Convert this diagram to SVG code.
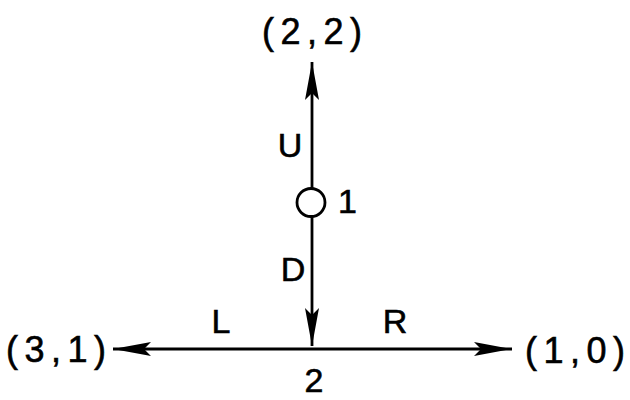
<svg xmlns="http://www.w3.org/2000/svg" width="630" height="400" viewBox="0 0 630 400">
<style>
text{font-family:"Liberation Sans",Arial,sans-serif;fill:#000;stroke:#000;stroke-width:0.6}
.t{font-size:36px;letter-spacing:6.5px}
.l{font-size:34px}
.e{stroke:#000;stroke-width:2.8;fill:none}
</style>
<defs>
<marker id="ah" viewBox="0 0 38 14" refX="38" refY="7" markerWidth="38" markerHeight="14" markerUnits="userSpaceOnUse" orient="auto">
<path d="M0,0 L38,7 L0,14 L7,7 Z" fill="#000"/>
</marker>
</defs>
<rect width="630" height="400" fill="#fff"/>
<g id="connectors">
<line id="U" class="e" x1="312" y1="189" x2="312" y2="62" marker-end="url(#ah)"/>
<line id="D" class="e" x1="312" y1="217" x2="312" y2="346" marker-end="url(#ah)"/>
<line id="L" class="e" x1="313" y1="349" x2="113" y2="349" marker-end="url(#ah)"/>
<line id="R" class="e" x1="313" y1="349" x2="512" y2="349" marker-end="url(#ah)"/>
<text class="l" x="290" y="157" text-anchor="middle">U</text>
<text class="l" x="293" y="281" text-anchor="middle">D</text>
<text class="l" x="221" y="333" text-anchor="middle">L</text>
<text class="l" x="395" y="333" text-anchor="middle">R</text>
</g>
<g id="node1">
<circle cx="311" cy="202.5" r="14" class="e"/>
<text class="l" x="338" y="213">1</text>
</g>
<g id="node2">
<text class="l" x="314" y="392" text-anchor="middle">2</text>
</g>
<g id="out22"><text class="t" x="262" y="44">(2,2)</text></g>
<g id="out31"><text class="t" x="6" y="362">(3,1)</text></g>
<g id="out10"><text class="t" x="525" y="363">(1,0)</text></g>
</svg>
